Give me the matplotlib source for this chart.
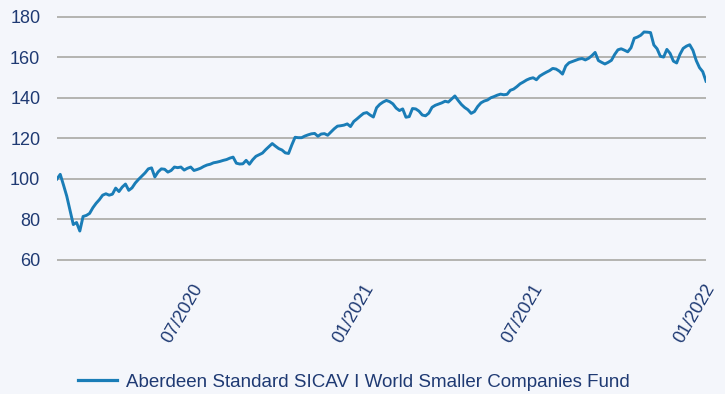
import matplotlib
matplotlib.use("Agg")
import matplotlib.pyplot as plt
import matplotlib.dates as mdates
from matplotlib.transforms import ScaledTranslation
import pandas as pd

# Fund index, rebased to 100, sampled roughly twice a week
start_date = "2020-02-21"
end_date = "2022-01-17"
fund_values = [
    100.0, 102.3, 97.0, 91.5, 84.5, 77.5, 78.5, 74.3, 81.5, 82.0,
    83.0, 85.8, 88.0, 89.8, 92.0, 92.7, 92.0, 92.5, 95.5, 93.8,
    96.0, 97.5, 94.4, 95.6, 98.0, 99.8, 101.4, 103.0, 105.0, 105.5,
    101.0, 103.5, 105.0, 104.8, 103.4, 104.2, 105.9, 105.6, 105.9, 104.4,
    105.3, 105.9, 104.2, 104.7, 105.3, 106.2, 106.9, 107.3, 108.0, 108.3,
    108.7, 109.2, 109.6, 110.3, 110.8, 107.8, 107.4, 107.5, 109.2, 107.3,
    109.5, 111.2, 112.0, 112.8, 114.5, 116.0, 117.5, 116.2, 115.0, 114.3,
    112.9, 112.6, 116.8, 120.6, 120.4, 120.4, 121.2, 121.8, 122.3, 122.5,
    121.1, 122.2, 122.4, 121.6, 123.2, 124.8, 126.1, 126.3, 126.6, 127.2,
    125.9, 128.4, 129.7, 131.1, 132.4, 132.8, 131.6, 130.6, 135.2, 136.9,
    138.0, 138.8, 138.2, 137.1, 135.0, 133.8, 134.6, 130.5, 130.8, 134.8,
    134.6, 133.5, 131.6, 131.2, 132.5, 135.4, 136.4, 137.0, 137.6, 138.4,
    138.0, 139.5, 141.0, 138.8, 136.8, 135.3, 134.2, 132.4, 133.3, 135.8,
    137.6, 138.5, 139.0, 140.1, 140.7, 141.4, 141.9, 141.6, 141.8, 143.8,
    144.4, 145.6, 147.0, 147.9, 148.9, 149.6, 150.0, 149.0, 150.8, 151.8,
    152.7, 153.5, 154.6, 154.3, 153.3, 151.8, 155.8, 157.4, 158.0, 158.6,
    159.2, 159.5, 158.8, 159.6, 160.9, 162.5, 158.5, 157.6, 156.8, 157.6,
    158.6, 161.5, 163.8, 164.3, 163.6, 162.8, 164.8, 169.5, 170.1, 171.0,
    172.6, 172.5, 172.3, 166.2, 164.3, 160.6, 160.2, 164.0, 162.0, 158.2,
    157.3, 161.5, 164.5, 165.6, 166.3, 163.5, 158.5, 155.0, 153.0, 148.3,
]
fund_name = "Aberdeen Standard SICAV I World Smaller Companies Fund"
y_ticks = [60, 80, 100, 120, 140, 160, 180]
x_ticks = ["2020-07-01", "2021-01-01", "2021-07-01", "2022-01-01"]

dates = pd.date_range(start_date, end_date, periods=len(fund_values))

bg = "#f4f6fb"
navy = "#1f3a73"
blue = "#1a7db7"

plt.rcParams["font.family"] = ["Liberation Sans", "DejaVu Sans"]

fig = plt.figure(figsize=(7.25, 3.94), dpi=100, facecolor=bg)
ax = fig.add_axes([0.0786, 0.335, 0.8952, 0.627])
ax.set_facecolor(bg)

ax.plot(dates, fund_values, color=blue, linewidth=2.1, label=fund_name,
        solid_joinstyle="round")

ax.set_ylim(59, 181)
ax.set_xlim(dates[0], dates[-1])
ax.set_yticks(y_ticks)
ax.set_xticks(pd.to_datetime(x_ticks))
ax.xaxis.set_major_formatter(mdates.DateFormatter("%m/%Y"))

ax.grid(axis="y", color="#a3a29c", linewidth=1.1)
ax.grid(axis="x", visible=False)
ax.set_axisbelow(True)
for s in ax.spines.values():
    s.set_visible(False)

ax.tick_params(axis="y", length=0, pad=12, labelsize=13, labelcolor=navy)
ax.tick_params(axis="x", length=0, pad=13.5, labelsize=13, labelcolor=navy)
for lbl in ax.get_xticklabels():
    lbl.set_rotation(60)
    lbl.set_ha("right")
    lbl.set_transform(lbl.get_transform() + ScaledTranslation(0.27, 0, fig.dpi_scale_trans))

leg = fig.legend(loc="center", bbox_to_anchor=(0.488, 0.03), frameon=False,
                 fontsize=13.5, handlelength=2.1, handletextpad=0.5)
for t in leg.get_texts():
    t.set_color(navy)
for h in leg.get_lines():
    h.set_linewidth(2.3)

fig.savefig("out.png", dpi=100, facecolor=bg)
